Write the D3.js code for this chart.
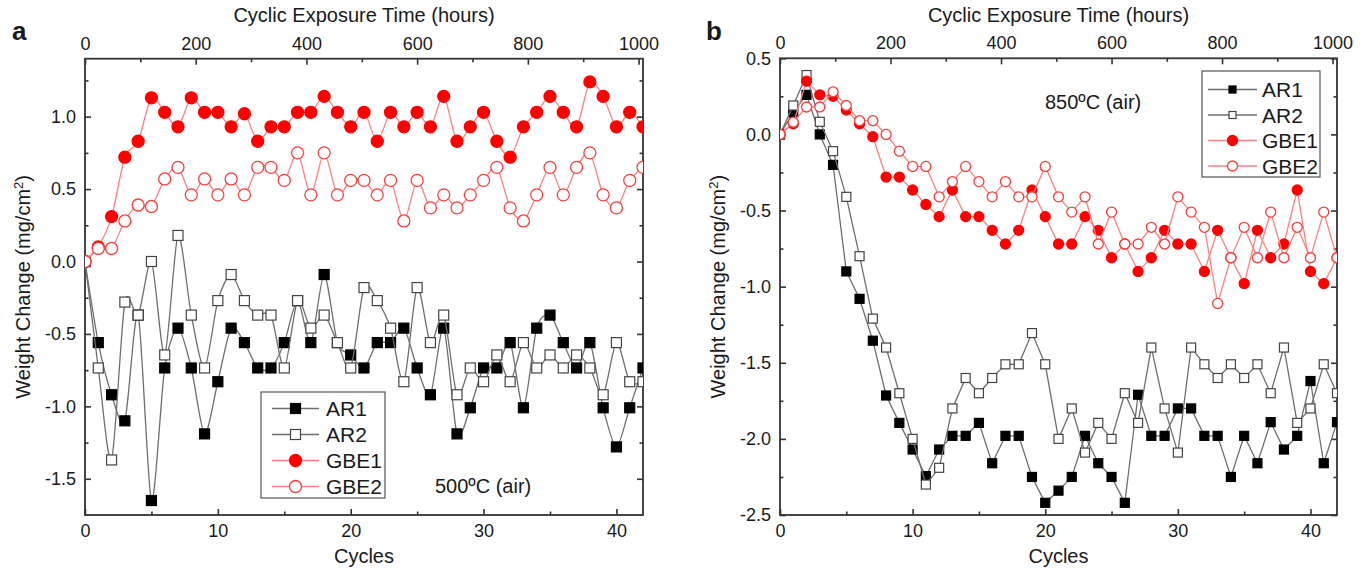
<!DOCTYPE html>
<html>
<head>
<meta charset="utf-8">
<script src="https://cdn.jsdelivr.net/npm/d3@7/dist/d3.min.js"></script>
<style>
  body { margin: 0; background: #fff; }
  text { font-family: "Liberation Sans", Arial, sans-serif; fill: #1a1a1a; }
</style>
</head>
<body>
<svg id="chart" width="1368" height="574"></svg>
<script>
// cycle number (x), 1 cycle = 24 h on the top axis
var cycles = d3.range(0, 43);
var hoursPerCycle = 24;
var seriesNames = ["AR1", "AR2", "GBE1", "GBE2"];

// panel a : 500 C (air)
var a_AR1 = [0, -0.56, -0.92, -1.10, -0.37, -1.65, -0.735, -0.46, -0.735, -1.19, -0.83, -0.46, -0.56, -0.735, -0.735, -0.56,
  -0.27, -0.56, -0.09, -0.56, -0.645, -0.735, -0.56, -0.56, -0.46, -0.735, -0.92, -0.46, -1.19, -1.01, -0.735, -0.735,
  -0.56, -1.01, -0.46, -0.37, -0.56, -0.735, -0.56, -1.01, -1.28, -1.01, -0.735];
var a_AR2 = [0, -0.735, -1.37, -0.28, -0.37, 0.0, -0.645, 0.18, -0.37, -0.735, -0.27, -0.09, -0.27, -0.37, -0.37, -0.735,
  -0.27, -0.46, -0.37, -0.56, -0.735, -0.18, -0.27, -0.46, -0.83, -0.18, -0.56, -0.37, -0.92, -0.735, -0.83, -0.645,
  -0.83, -0.56, -0.735, -0.645, -0.735, -0.645, -0.735, -0.92, -0.56, -0.83, -0.83];
var a_GBE1 = [0, 0.10, 0.31, 0.72, 0.83, 1.13, 1.03, 0.93, 1.13, 1.03, 1.03, 0.93, 1.02, 0.83, 0.93, 0.93,
  1.03, 1.03, 1.14, 1.03, 0.93, 1.03, 0.83, 1.03, 0.93, 1.03, 0.93, 1.14, 0.83, 0.93, 1.03, 0.83,
  0.72, 0.93, 1.03, 1.14, 1.03, 0.93, 1.24, 1.14, 0.93, 1.03, 0.93];
var a_GBE2 = [0, 0.09, 0.09, 0.28, 0.39, 0.38, 0.57, 0.65, 0.46, 0.57, 0.46, 0.57, 0.46, 0.65, 0.65, 0.56,
  0.75, 0.46, 0.75, 0.46, 0.56, 0.56, 0.46, 0.56, 0.28, 0.56, 0.37, 0.46, 0.37, 0.46, 0.56, 0.65,
  0.37, 0.28, 0.46, 0.65, 0.46, 0.65, 0.75, 0.46, 0.37, 0.56, 0.65];

// panel b : 850 C (air)
var b_AR1 = [0, 0.145, 0.26, 0.0, -0.2, -0.90, -1.08, -1.355, -1.715, -1.895, -2.07, -2.245, -2.07, -1.98, -1.98, -1.895,
  -2.16, -1.98, -1.98, -2.25, -2.42, -2.34, -2.25, -1.98, -2.16, -2.25, -2.42, -1.71, -1.98, -1.98, -1.80, -1.80,
  -1.98, -1.98, -2.25, -1.98, -2.16, -1.89, -2.07, -1.98, -1.62, -2.16, -1.89];
var b_AR2 = [0, 0.19, 0.39, 0.083, -0.11, -0.41, -0.80, -1.21, -1.40, -1.70, -2.0, -2.30, -2.19, -1.80, -1.60, -1.70,
  -1.60, -1.51, -1.51, -1.305, -1.51, -2.0, -1.80, -2.09, -1.895, -2.0, -1.70, -1.895, -1.40, -1.80, -2.09, -1.40,
  -1.51, -1.60, -1.51, -1.60, -1.51, -1.70, -1.40, -1.895, -1.80, -1.51, -1.70];
var b_GBE1 = [0, 0.07, 0.35, 0.26, 0.25, 0.16, 0.07, -0.015, -0.28, -0.28, -0.365, -0.46, -0.54, -0.365, -0.54, -0.54,
  -0.63, -0.72, -0.63, -0.365, -0.54, -0.72, -0.72, -0.54, -0.63, -0.81, -0.72, -0.90, -0.81, -0.63, -0.72, -0.72,
  -0.90, -0.63, -0.81, -0.98, -0.63, -0.81, -0.72, -0.365, -0.90, -0.98, -0.81];
var b_GBE2 = [0, 0.08, 0.18, 0.18, 0.28, 0.19, 0.09, 0.09, 0.0, -0.11, -0.21, -0.21, -0.41, -0.31, -0.21, -0.31,
  -0.41, -0.31, -0.41, -0.41, -0.21, -0.41, -0.51, -0.41, -0.72, -0.51, -0.72, -0.72, -0.61, -0.72, -0.41, -0.51,
  -0.61, -1.11, -0.81, -0.61, -0.81, -0.51, -0.81, -0.61, -0.81, -0.51, -0.81];

var svg = d3.select("#chart");
var yFmt = function (d) { return d3.format(".1f")(d).replace("\u2212", "-"); };

function drawPanel(p) {
  var g = svg.append("g");
  var x = d3.scaleLinear().domain([0, 42]).range([p.left, p.right]);
  var xh = d3.scaleLinear().domain([0, 42 * hoursPerCycle]).range([p.left, p.right]);
  var y = d3.scaleLinear().domain(p.yDomain).range([p.bottom, p.top]);

  // ticks (inward, Origin style)
  var axes = [
    [d3.axisBottom(x).tickValues([0, 10, 20, 30, 40]).tickFormat(d3.format("d")), "translate(0," + p.bottom + ")", 6],
    [d3.axisBottom(x).tickValues([5, 15, 25, 35]).tickFormat(""), "translate(0," + p.bottom + ")", 3.5],
    [d3.axisTop(xh).tickValues([0, 200, 400, 600, 800, 1000]).tickFormat(d3.format("d")), "translate(0," + p.top + ")", 6],
    [d3.axisTop(xh).tickValues([100, 300, 500, 700, 900]).tickFormat(""), "translate(0," + p.top + ")", 3.5],
    [d3.axisLeft(y).tickValues(p.yMajor).tickFormat(yFmt), "translate(" + p.left + ",0)", 6],
    [d3.axisLeft(y).tickValues(p.yMinor).tickFormat(""), "translate(" + p.left + ",0)", 3.5],
    [d3.axisRight(y).tickValues(p.yMajor).tickFormat(""), "translate(" + p.right + ",0)", 6],
    [d3.axisRight(y).tickValues(p.yMinor).tickFormat(""), "translate(" + p.right + ",0)", 3.5]
  ];
  axes.forEach(function (a) {
    var ax = g.append("g").attr("transform", a[1])
      .call(a[0].tickSize(-a[2]).tickPadding(9));
    ax.select(".domain").remove();
    ax.selectAll("line").attr("stroke", "#333").attr("stroke-width", 1.6);
    ax.selectAll("text").style("font-size", "18px").attr("fill", "#1a1a1a");
  });

  g.append("rect")
    .attr("x", p.left).attr("y", p.top)
    .attr("width", p.right - p.left).attr("height", p.bottom - p.top)
    .attr("fill", "none").attr("stroke", "#333").attr("stroke-width", 1.8);

  // titles
  var mid = (p.left + p.right) / 2;
  g.append("text").attr("x", mid).attr("y", 22).attr("text-anchor", "middle")
    .style("font-size", "20px").text("Cyclic Exposure Time (hours)");
  g.append("text").attr("x", mid).attr("y", 563).attr("text-anchor", "middle")
    .style("font-size", "20px").text("Cycles");
  var yt = g.append("text")
    .attr("transform", "translate(" + p.yTitleX + "," + ((p.top + p.bottom) / 2) + ") rotate(-90)")
    .attr("text-anchor", "middle").style("font-size", "20px");
  yt.append("tspan").text("Weight Change (mg/cm");
  yt.append("tspan").attr("baseline-shift", "super").style("font-size", "13px").text("2");
  yt.append("tspan").text(")");
  g.append("text").attr("x", p.tagX).attr("y", 40)
    .style("font-size", "26px").style("font-weight", "bold").text(p.tag);

  g.append("text").attr("x", p.noteX).attr("y", p.noteY)
    .style("font-size", "20px").text(p.note);

  // series
  var clipId = "clip" + p.tag;
  g.append("clipPath").attr("id", clipId).append("rect")
    .attr("x", p.left).attr("y", p.top)
    .attr("width", p.right - p.left).attr("height", p.bottom - p.top);
  var plot = g.append("g").attr("clip-path", "url(#" + clipId + ")");

  var styles = [
    { line: "#6e6e6e", fill: "#000", stroke: "#000", shape: "square" },
    { line: "#6e6e6e", fill: "#fff", stroke: "#444", shape: "square" },
    { line: "#ff8080", fill: "#ff0000", stroke: "#ff0000", shape: "circle" },
    { line: "#ff8080", fill: "#fff", stroke: "#ff3b3b", shape: "circle" }
  ];

  function marker(sel, st, cx, cy, sq, r) {
    if (st.shape === "square") {
      sel.append("rect").attr("x", cx - sq / 2).attr("y", cy - sq / 2)
        .attr("width", sq).attr("height", sq)
        .attr("fill", st.fill).attr("stroke", st.stroke).attr("stroke-width", 1.2);
    } else {
      sel.append("circle").attr("cx", cx).attr("cy", cy).attr("r", r)
        .attr("fill", st.fill).attr("stroke", st.stroke).attr("stroke-width", 1.3);
    }
  }

  var line = d3.line().x(function (d, i) { return x(cycles[i]); })
    .y(function (d) { return y(d); }).curve(p.curve);

  p.series.forEach(function (vals, k) {
    var st = styles[k];
    var sg = plot.append("g");
    sg.append("path").datum(vals).attr("d", line)
      .attr("fill", "none").attr("stroke", st.line).attr("stroke-width", 1.3);
    vals.forEach(function (v, i) {
      marker(sg, st, x(cycles[i]), y(v), p.sq, p.r);
    });
  });

  // legend
  var L = p.legend;
  var lg = g.append("g");
  lg.append("rect").attr("x", L.x).attr("y", L.y).attr("width", L.w).attr("height", L.h)
    .attr("fill", "#fff").attr("stroke", "#555").attr("stroke-width", 1.2);
  seriesNames.forEach(function (name, k) {
    var st = styles[k];
    var cy = L.y + L.first + k * L.step;
    lg.append("line").attr("x1", L.x + L.l1).attr("x2", L.x + L.l2)
      .attr("y1", cy).attr("y2", cy).attr("stroke", st.line).attr("stroke-width", 1.3);
    marker(lg, st, L.x + (L.l1 + L.l2) / 2, cy, L.sq, L.r);
    lg.append("text").attr("x", L.x + L.tx).attr("y", cy + 7.5)
      .style("font-size", "21px").text(name);
  });
}

drawPanel({
  tag: "a", tagX: 12, left: 85, right: 643, top: 58.7, bottom: 515, yTitleX: 30,
  yDomain: [-1.75, 1.4], yMajor: [-1.5, -1.0, -0.5, 0.0, 0.5, 1.0], yMinor: [-1.25, -0.75, -0.25, 0.25, 0.75, 1.25],
  series: [a_AR1, a_AR2, a_GBE1, a_GBE2], curve: d3.curveCardinal.tension(0.2), sq: 10, r: 6,
  note: "500ºC (air)", noteX: 435, noteY: 493,
  legend: { x: 261, y: 392, w: 124, h: 106, first: 16.5, step: 26, l1: 11, l2: 58, tx: 65, sq: 10, r: 6 }
});

drawPanel({
  tag: "b", tagX: 706, left: 780, right: 1337, top: 58.3, bottom: 515, yTitleX: 725,
  yDomain: [-2.5, 0.5], yMajor: [-2.5, -2.0, -1.5, -1.0, -0.5, 0.0, 0.5], yMinor: [-2.25, -1.75, -1.25, -0.75, -0.25, 0.25],
  series: [b_AR1, b_AR2, b_GBE1, b_GBE2], curve: d3.curveLinear, sq: 9, r: 5,
  note: "850ºC (air)", noteX: 1045, noteY: 109,
  legend: { x: 1202, y: 71, w: 118, h: 106, first: 18.5, step: 25.5, l1: 6, l2: 55, tx: 60, sq: 7, r: 5 }
});
</script>
</body>
</html>
